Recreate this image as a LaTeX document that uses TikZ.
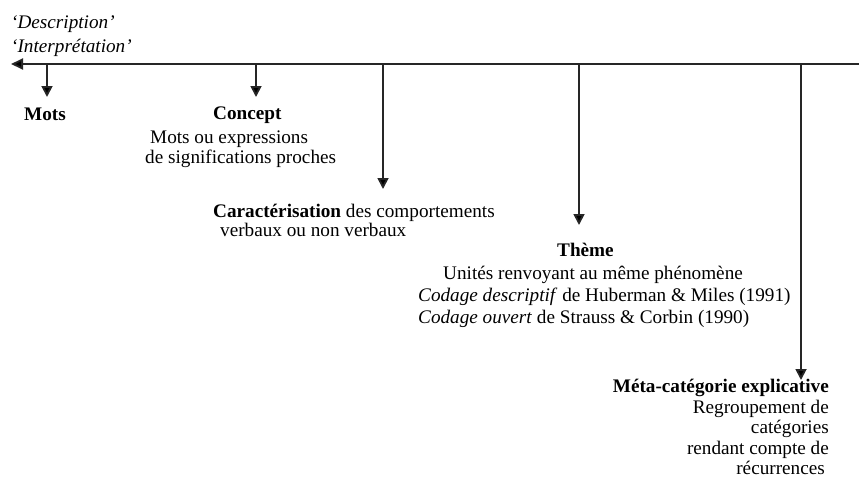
\documentclass[tikz,border=0pt]{standalone}
\usepackage{fontspec}
\setmainfont{Liberation Serif}
\usetikzlibrary{arrows.meta}
\begin{document}
\begin{tikzpicture}[x=1pt,y=-1pt,
  txt/.style={inner sep=0pt,font=\fontsize{19.2}{23}\selectfont},
  lw/.style={txt,anchor=base west},
  le/.style={txt,anchor=base east},
  axis/.style={line width=1.8pt,draw=black!85,-{Triangle[width=11pt,length=12pt,fill=black]}},
  down/.style={line width=1.8pt,draw=black!85,-{Triangle[width=11pt,length=11pt,fill=black]}}]
\useasboundingbox (0,0) rectangle (859,485);
% texts
\node[lw] (desc) at (11,28) {\itshape ‘Description’};
\node[lw] (interp) at (11,52) {\itshape ‘Interprétation’};
\node[lw] (mots) at (24,120) {\bfseries Mots};
\node[lw] (concept) at (213,119) {\bfseries Concept};
\node[lw] (c1) at (150,143) {Mots ou expressions};
\node[lw] (c2) at (145,163) {de significations proches};
\node[lw] (car1) at (213,217) {\textbf{Caractérisation} des comportements};
\node[lw] (car2) at (220,236) {verbaux ou non verbaux};
\node[lw] (theme) at (557,256) {\bfseries Thème};
\node[lw] (t1) at (443,279) {Unités renvoyant au même phénomène};
\node[lw] (t2) at (418,301) {\textit{Codage descriptif} de Huberman \& Miles (1991)};
\node[lw] (t3) at (418,323) {\textit{Codage ouvert} de Strauss \& Corbin (1990)};
\node[le] (meta) at (829,392) {\bfseries Méta-catégorie explicative};
\node[le] (m1) at (829,413) {Regroupement de};
\node[le] (m2) at (829,433) {catégories};
\node[le] (m3) at (829,454) {rendant compte de};
\node[le] (m4) at (825,474) {récurrences};
% axis
\coordinate (R) at (859,64);
\coordinate (L) at (11,64);
\draw[axis] (R) -- (L);
% branch points and tips
\coordinate (a1) at (47,64);  \coordinate (b1) at (47,97);
\coordinate (a2) at (256,64); \coordinate (b2) at (256,97);
\coordinate (a3) at (383,64); \coordinate (b3) at (383,189);
\coordinate (a4) at (579,64); \coordinate (b4) at (579,225);
\coordinate (a5) at (801,64); \coordinate (b5) at (801,380);
\foreach \i in {1,...,5} \draw[down] (a\i) -- (b\i);
\end{tikzpicture}
\end{document}
